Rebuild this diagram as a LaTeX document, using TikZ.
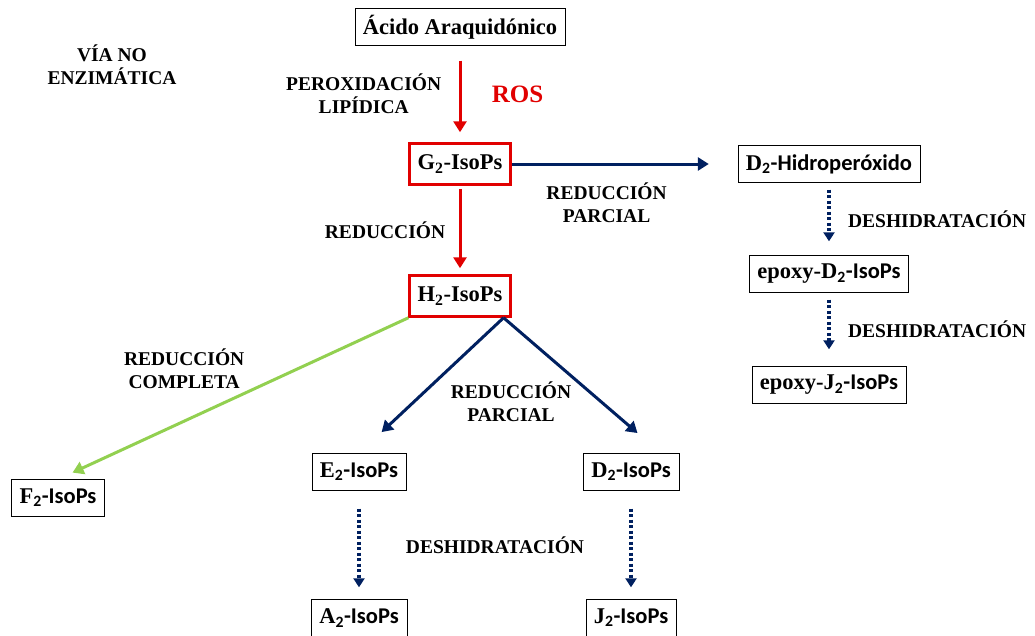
\documentclass[tikz,border=0pt]{standalone}
\usepackage{fontspec}
\setmainfont{Liberation Serif}
\setsansfont{Carlito}
\usetikzlibrary{positioning,arrows.meta,calc}
\definecolor{rojo}{RGB}{225,0,0}
\definecolor{azul}{RGB}{0,32,96}
\definecolor{verde}{RGB}{146,208,80}
\newcommand{\isop}[1]{#1{\sffamily\textsubscript{2}-IsoPs}}

\begin{document}
\begin{tikzpicture}
                [x=1pt,y=-1pt,font=\bfseries\fontsize{22.5}{26}\selectfont,
                box/.style={draw,thin,on grid,inner xsep=8pt,minimum height=37pt},
                rbox/.style={draw=rojo,line width=2.5pt,on grid,inner xsep=8pt,minimum height=41pt},
                lbl/.style={font=\bfseries\fontsize{19.5}{23}\selectfont,align=center,text=black},
                rojoarr/.style={-{Triangle[width=13pt,length=11pt]},rojo,line width=3pt},
                azularr/.style={-{Triangle[width=13pt,length=11pt]},azul,line width=3pt},
                verdearr/.style={-{Triangle[width=13pt,length=11pt]},verde,line width=3pt},
                dotarr/.style={-{Triangle[width=11pt,length=9pt]},azul,line width=3.5pt,dash pattern=on 3pt off 2.5pt}]
                \useasboundingbox (0,0) rectangle (1035,635);
                \node[box] (acido) at (460,27) {Ácido Araquidónico};
                \node[lbl] (via) at (112,65) {VÍA NO\\ENZIMÁTICA};
                \node[rbox] (g2) [below=137pt of acido] {G\textsubscript{2}-IsoPs};
                \node[rbox] (h2) [below=132pt of g2] {H\textsubscript{2}-IsoPs};
                \node[box] (dhidro) [right=369pt of g2] {D{\sffamily\textsubscript{2}-Hidroperóxido}};
                \node[box] (epoxyd) [below=110pt of dhidro] {epoxy-D{\sffamily\textsubscript{2}-IsoPs}};
                \node[box] (epoxyj) [below=111pt of epoxyd] {epoxy-J{\sffamily\textsubscript{2}-IsoPs}};
                \node[box] (e2) [below left=176pt and 101pt of h2] {\isop{E}};
                \node[box] (d2) [below right=176pt and 171pt of h2] {\isop{D}};
                \node[box] (f2) [below left=202pt and 402pt of h2] {\isop{F}};
                \node[box] (a2) [below=146pt of e2] {\isop{A}};
                \node[box] (j2) [below=146pt of d2] {\isop{J}};
                \coordinate (split) at ([xshift=-8pt]h2.south east);
                \node[lbl] (deshi) at ($(e2)!0.5!(j2)$) {DESHIDRATACIÓN};
                \node[lbl] (parcial) [below right=106pt and 51pt of h2.center, anchor=center] {REDUCCIÓN\\PARCIAL};
                \path (acido) edge[rojoarr,shorten <=15pt,shorten >=10pt]
                                node[lbl,left=14pt]{PEROXIDACIÓN\\LIPÍDICA}
                                node[lbl,right=27pt,text=rojo,font=\bfseries\fontsize{25}{28}\selectfont]{ROS} (g2)
                      (g2) edge[rojoarr,shorten <=3pt,shorten >=6pt]
                                node[lbl,left=10pt]{REDUCCIÓN} (h2)
                           edge[azularr,shorten >=29pt]
                                node[lbl,pos=0.42,below=14pt]{REDUCCIÓN\\PARCIAL} (dhidro)
                      (h2.south west) edge[verdearr,shorten >=16pt]
                                node[lbl,pos=0.64,above=28pt]{REDUCCIÓN\\COMPLETA} (f2.north)
                      (split) edge[azularr,shorten >=31pt] (e2.north)
                              edge[azularr,shorten >=31pt] ([xshift=30pt]d2.north)
                      (dhidro) edge[dotarr,shorten <=7pt,shorten >=14pt]
                                node[lbl,right=14pt]{DESHIDRATACIÓN} (epoxyd)
                      (epoxyd) edge[dotarr,shorten <=7pt,shorten >=17pt]
                                node[lbl,right=14pt]{DESHIDRATACIÓN} (epoxyj)
                      (e2) edge[dotarr,shorten <=18pt,shorten >=12pt] (a2)
                      (d2) edge[dotarr,shorten <=18pt,shorten >=12pt] (j2);
            \end{tikzpicture}
\end{document}
